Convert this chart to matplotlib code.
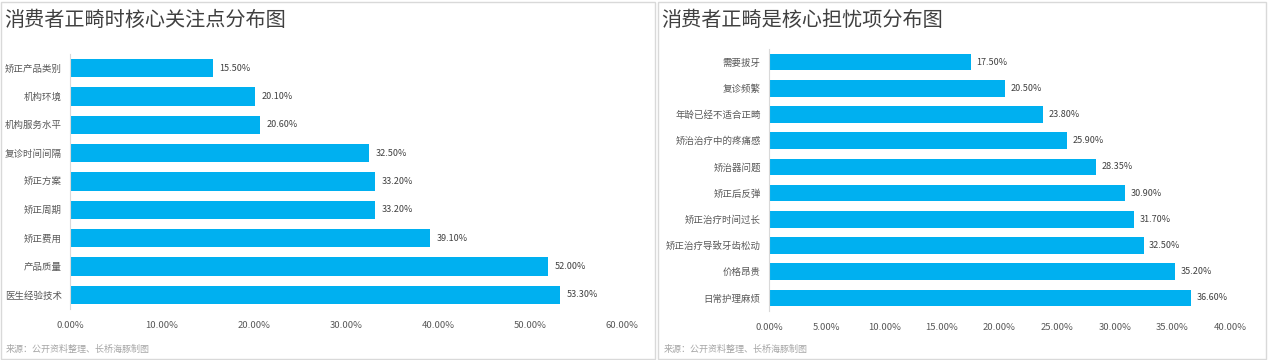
import matplotlib
matplotlib.use("Agg")
import matplotlib.pyplot as plt
from matplotlib.patches import Rectangle
from matplotlib.ticker import FuncFormatter

plt.rcParams['font.family'] = ['Noto Sans CJK SC', 'DejaVu Sans']

# left chart: core concerns
focus_labels = ['矫正产品类别', '机构环境', '机构服务水平', '复诊时间间隔', '矫正方案',
                '矫正周期', '矫正费用', '产品质量', '医生经验技术']
focus_values = [15.5, 20.1, 20.6, 32.5, 33.2, 33.2, 39.1, 52.0, 53.3]
focus_ticks = [0, 10, 20, 30, 40, 50, 60]

# right chart: core worries
worry_labels = ['需要拔牙', '复诊频繁', '年龄已经不适合正畸', '矫治治疗中的疼痛感', '矫治器问题',
                '矫正后反弹', '矫正治疗时间过长', '矫正治疗导致牙齿松动', '价格昂贵', '日常护理麻烦']
worry_values = [17.5, 20.5, 23.8, 25.9, 28.35, 30.9, 31.7, 32.5, 35.2, 36.6]
worry_ticks = [0, 5, 10, 15, 20, 25, 30, 35, 40]

BLUE = '#00B0F0'
GRAY = '#595959'

fig = plt.figure(figsize=(12.68, 3.6), dpi=100)
W, H = 1268, 360


def px(x0, y0, x1, y1):
    # pixel box (top-down) -> figure fraction rect
    return [x0 / W, 1 - y1 / H, (x1 - x0) / W, (y1 - y0) / H]


# panel frames
for x0, x1 in [(1, 655), (658, 1266)]:
    fig.patches.append(Rectangle((x0 / W, 1 / H), (x1 - x0) / W, (H - 3) / H,
                                 transform=fig.transFigure, fill=False,
                                 edgecolor='#D9D9D9', linewidth=1))


def draw(ax, labels, values, ticks, xmax):
    y = list(range(len(labels)))
    bars = ax.barh(y, values, height=0.64, color=BLUE, zorder=2)
    ax.set_yticks(y, labels)
    ax.set_ylim(len(labels) - 0.5, -0.5)
    ax.set_xlim(0, xmax)
    ax.set_xticks(ticks)
    ax.xaxis.set_major_formatter(FuncFormatter(lambda v, p: f'{v:.2f}%'))
    for v, b in zip(values, bars):
        ax.text(b.get_width() + xmax * 0.012, b.get_y() + b.get_height() / 2,
                f'{v:.2f}%', va='center', ha='left', fontsize=6.5, color='#404040')
    for s in ['top', 'right', 'bottom']:
        ax.spines[s].set_visible(False)
    ax.spines['left'].set_color('#D9D9D9')
    ax.tick_params(axis='both', length=0, labelsize=6.8, colors=GRAY)
    ax.tick_params(axis='x', pad=9)
    ax.tick_params(axis='y', pad=6)
    ax.set_facecolor('none')


ax1 = fig.add_axes(px(70, 54, 622, 309))
draw(ax1, focus_labels, focus_values, focus_ticks, 60)

ax2 = fig.add_axes(px(769, 49, 1230, 311))
draw(ax2, worry_labels, worry_values, worry_ticks, 40)

fig.text(4 / W, 1 - 20 / H, '消费者正畸时核心关注点分布图', fontsize=14.5, color='#404040', va='center')
fig.text(661 / W, 1 - 20 / H, '消费者正畸是核心担忧项分布图', fontsize=14.5, color='#404040', va='center')

fig.text(6 / W, 1 - 349 / H, '来源：公开资料整理、长桥海豚制图', fontsize=6.5, color='#A6A6A6',
         style='italic', va='center')
fig.text(664 / W, 1 - 349 / H, '来源：公开资料整理、长桥海豚制图', fontsize=6.5, color='#A6A6A6',
         style='italic', va='center')

fig.savefig('out.png', dpi=100)
